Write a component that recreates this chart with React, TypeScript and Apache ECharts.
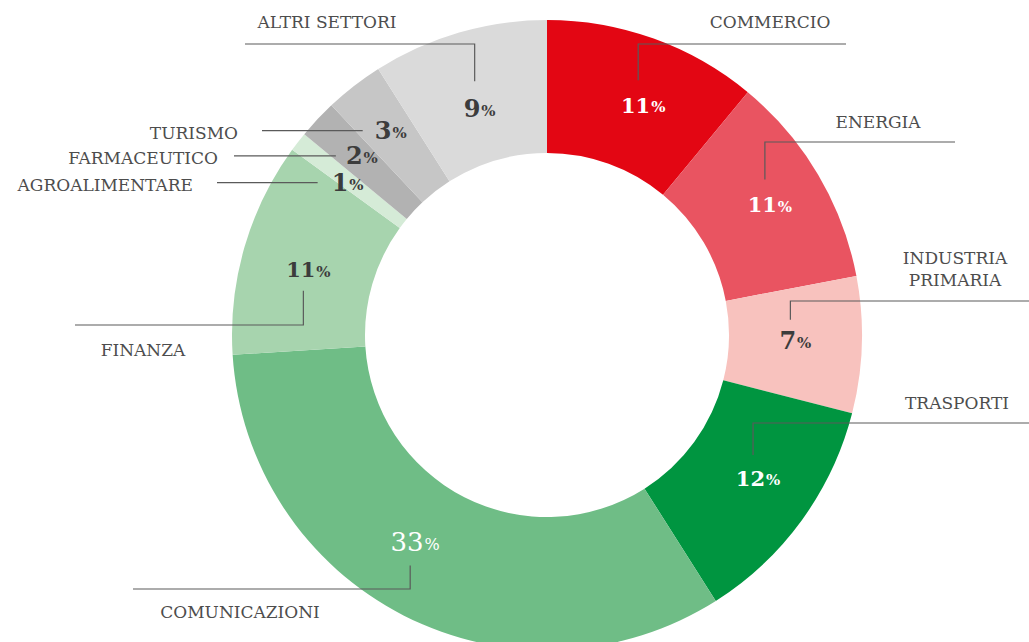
import React, { useEffect, useRef } from "react";
import * as echarts from "echarts";

const categories = [
  "COMMERCIO",
  "ENERGIA",
  "INDUSTRIA\nPRIMARIA",
  "TRASPORTI",
  "COMUNICAZIONI",
  "FINANZA",
  "AGROALIMENTARE",
  "FARMACEUTICO",
  "TURISMO",
  "ALTRI SETTORI",
];
const values = [11, 11, 7, 12, 33, 11, 1, 2, 3, 9];

const colors = [
  "#e30613",
  "#e95461",
  "#f8c2be",
  "#009540",
  "#6fbd86",
  "#a7d4ae",
  "#d5ebd7",
  "#b2b2b2",
  "#c6c6c6",
  "#dadada",
];
const labelColors = ["#fff", "#fff", "#3c3c3c", "#fff", "#fff", "#3c3c3c", "#3c3c3c", "#3c3c3c", "#3c3c3c", "#3c3c3c"];

// layout of labels / leader lines (styling only)
// dx, dy: nudge of the % label from the sector's mid point
// kind: "up" -> vertical line above the % label; "down" -> below; "side" -> horizontal line left of the label
const layout = [
  { dx: 12, dy: 4, tx: 770, ty: 22, align: "center", lineY: 44, lineEnd: 846, kind: "up", gap: 25 },
  { dx: 9, dy: -4, tx: 878, ty: 122, align: "center", lineY: 142, lineEnd: 955, kind: "up", gap: 25 },
  { dx: 0, dy: -2, tx: 955, ty: 269, align: "center", lineY: 301, lineEnd: 1029, kind: "up", gap: 21 },
  { dx: 10, dy: -3, tx: 957, ty: 403, align: "center", lineY: 423, lineEnd: 1029, kind: "up", gap: 23 },
  { dx: -19, dy: -14, tx: 240, ty: 612, align: "center", lineY: 589, lineEnd: 133, kind: "down", gap: 23 },
  { dx: 0, dy: 4, tx: 143, ty: 350, align: "center", lineY: 325, lineEnd: 75, kind: "down", gap: 21 },
  { dx: -3, dy: 0, tx: 193, ty: 184, align: "right", lineY: 0, lineEnd: 217, kind: "side", gap: 30 },
  { dx: -4, dy: -9, tx: 218, ty: 157, align: "right", lineY: 0, lineEnd: 234, kind: "side", gap: 26 },
  { dx: -4, dy: -8, tx: 238, ty: 130, align: "right", lineY: 0, lineEnd: 262, kind: "side", gap: 28 },
  { dx: 2, dy: 12, tx: 327, ty: 22, align: "center", lineY: 44, lineEnd: 245, kind: "up", gap: 27 },
];

const CX = 547;
const CY = 335;
const R0 = 182;
const R1 = 315;
const FONT = "'DejaVu Serif', 'Liberation Serif', serif";

export default function App() {
  const ref = useRef<HTMLDivElement>(null);
  useEffect(() => {
    if (!ref.current) return;
    const chart = echarts.init(ref.current, null, { renderer: "svg" });
    const total = values.reduce((a, b) => a + b, 0);
    const rMid = (R0 + R1) / 2;
    let cum = 0;
    const graphics: any[] = [];
    const lineStyle = { stroke: "#5a5a5a", lineWidth: 1.2, fill: "none" };
    values.forEach((v, i) => {
      const mid = ((cum + v / 2) / total) * Math.PI * 2;
      cum += v;
      const L = layout[i];
      const lx = CX + rMid * Math.sin(mid) + L.dx;
      const ly = CY - rMid * Math.cos(mid) + L.dy;
      const big = i === 4;
      const single = v < 10;
      const vx = lx - 5;
      let pts: number[][] = [];
      if (L.kind === "up") {
        pts = [[vx, ly - L.gap], [vx, L.lineY], [L.lineEnd, L.lineY]];
      } else if (L.kind === "down") {
        pts = [[vx, ly + L.gap], [vx, L.lineY], [L.lineEnd, L.lineY]];
      } else {
        pts = [[lx - L.gap, ly], [L.lineEnd, ly]];
      }
      graphics.push({
        type: "polyline",
        shape: { points: pts },
        style: lineStyle,
        z: 10,
        silent: true,
      });
      graphics.push({
        type: "text",
        x: L.tx,
        y: L.kind === "side" ? ly + 2 : L.ty,
        style: {
          text: categories[i],
          fill: "#4d4d4d",
          font: `17px ${FONT}`,
          align: L.align,
          verticalAlign: "middle",
          lineHeight: 22,
        },
        z: 10,
        silent: true,
      });
      graphics.push({
        type: "text",
        x: lx,
        y: ly,
        style: {
          text: `{n|${v}}{p|%}`,
          align: "center",
          verticalAlign: "middle",
          rich: {
            n: {
              fontFamily: FONT,
              fontSize: big ? 26 : single ? 24 : 21,
              fontWeight: big ? "normal" : "bold",
              fill: labelColors[i],
              color: labelColors[i],
            },
            p: {
              fontFamily: FONT,
              fontSize: big ? 16 : 15,
              fontWeight: big ? "normal" : "bold",
              fill: labelColors[i],
              color: labelColors[i],
              padding: [single ? 5 : 4, 0, 0, 1],
            },
          },
        },
        z: 11,
        silent: true,
      });
    });

    const data = values.map((v, i) => ({
      name: categories[i],
      value: v,
      itemStyle: { color: colors[i] },
    }));

    chart.setOption({
      animation: false,
      backgroundColor: "#fff",
      series: [
        {
          type: "pie",
          center: [CX, CY],
          radius: [R0, R1],
          startAngle: 90,
          clockwise: true,
          silent: true,
          label: { show: false },
          labelLine: { show: false },
          itemStyle: { borderWidth: 0 },
          data,
        },
      ],
      graphic: graphics,
    });
    return () => chart.dispose();
  }, []);
  return (
    <div
      ref={ref}
      style={{ position: "fixed", left: 0, top: 0, width: 1029, height: 642 }}
    />
  );
}
